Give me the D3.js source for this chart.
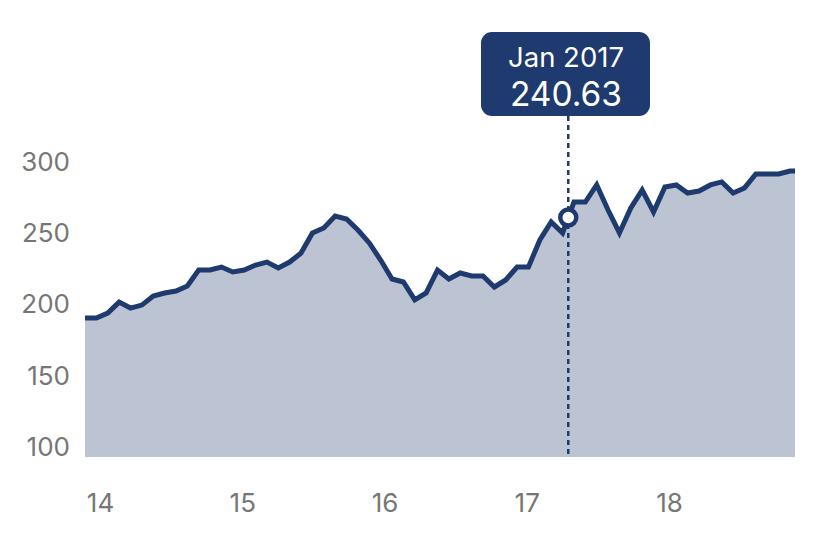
<!DOCTYPE html>
<html>
<head>
<meta charset="utf-8">
<script src="https://cdn.jsdelivr.net/npm/d3@7"></script>
<style>
  html, body { margin: 0; padding: 0; background: #fff; }
  svg { display: block; font-family: Inter, Roboto, "Noto Sans", sans-serif; }
</style>
</head>
<body>
<svg id="chart" width="822" height="534"></svg>
<script>
// ---- data ----
const values = [
  190.5, 190.5, 194.0, 201.7, 197.5, 199.6, 206.0, 208.1, 209.5, 213.0,
  224.2, 224.2, 226.3, 222.8, 224.2, 227.7, 229.8, 225.6, 229.8, 236.1,
  250.2, 253.7, 262.1, 260.0, 252.3, 243.2, 231.2, 217.9, 215.8, 203.2,
  208.1, 224.2, 217.9, 222.1, 220.0, 220.0, 212.3, 217.2, 226.3, 226.3,
  245.3, 257.9, 250.2, 271.9, 271.9, 283.9, 266.3, 250.2, 267.7, 280.3,
  264.9, 282.5, 283.9, 278.2, 279.6, 283.9, 286.0, 278.2, 281.8, 291.6,
  291.6, 291.6, 293.7, 293.7
];
const yTicks = [100, 150, 200, 250, 300];
const yearTicks = [14, 15, 16, 17, 18];
const highlightIndex = 42.5;
const highlightLabel = "Jan 2017";
const highlightValue = "240.63";

// ---- layout ----
const plotLeft = 85, plotRight = 795, plotTop = 162, plotBottom = 457;
const navy = "#1e3a6e";
const fillCol = "#bcc3d2";
const labelCol = "#767676";

const svg = d3.select("#chart");

const x = d3.scaleLinear().domain([0, 62]).range([plotLeft, 790]);
const xYears = d3.scaleLinear().domain([14, 18]).range([100, 669]);
const y = d3.scaleLinear().domain([93, 300]).range([plotBottom, plotTop]);

svg.append("defs").append("clipPath").attr("id", "clip")
  .append("rect")
  .attr("x", plotLeft).attr("y", 0)
  .attr("width", plotRight - plotLeft).attr("height", plotBottom + 2);

const g = svg.append("g").attr("clip-path", "url(#clip)");

const area = d3.area()
  .x((d, i) => x(i))
  .y0(y(93))
  .y1(d => y(d));

const line = d3.line()
  .x((d, i) => x(i))
  .y(d => y(d));

g.append("path").datum(values)
  .attr("d", area)
  .attr("fill", fillCol);

g.append("path").datum(values)
  .attr("d", line)
  .attr("fill", "none")
  .attr("stroke", navy)
  .attr("stroke-width", 5)
  .attr("stroke-linejoin", "miter");

// y axis labels
const yAxis = d3.axisLeft(y).tickValues(yTicks).tickSize(0).tickPadding(0);
const ya = svg.append("g").attr("transform", "translate(70,0)").call(yAxis);
ya.select(".domain").remove();
ya.selectAll("text")
  .attr("fill", labelCol)
  .style("font-size", "26px")
  .style("font-family", "Inter, Roboto, sans-serif");

// x axis labels
const xAxis = d3.axisBottom(xYears).tickValues(yearTicks).tickFormat(d => String(d)).tickSize(0).tickPadding(0);
const xa = svg.append("g").attr("transform", "translate(0,495)").call(xAxis);
xa.select(".domain").remove();
xa.selectAll("text")
  .attr("fill", labelCol)
  .attr("dy", "0.71em")
  .attr("y", -1)
  .style("font-size", "26px")
  .style("font-family", "Inter, Roboto, sans-serif");

// highlight
const i0 = Math.floor(highlightIndex), i1 = Math.ceil(highlightIndex);
const hv = values[i0] + (values[i1] - values[i0]) * (highlightIndex - i0);
const hx = x(highlightIndex), hy = y(hv);

svg.append("line")
  .attr("x1", hx).attr("x2", hx)
  .attr("y1", 116).attr("y2", plotBottom - 2)
  .attr("stroke", navy)
  .attr("stroke-width", 2.5)
  .attr("stroke-dasharray", "5,4");

svg.append("circle")
  .attr("cx", hx).attr("cy", hy).attr("r", 8)
  .attr("fill", "#fff")
  .attr("stroke", navy)
  .attr("stroke-width", 4.5);

const tip = svg.append("g");
tip.append("rect")
  .attr("x", 481).attr("y", 32).attr("width", 169).attr("height", 84)
  .attr("rx", 11).attr("fill", navy);
tip.append("text")
  .attr("x", 566).attr("y", 67)
  .attr("text-anchor", "middle")
  .attr("fill", "#fff")
  .style("font-size", "27.5px")
  .text(highlightLabel);
tip.append("text")
  .attr("x", 566).attr("y", 106)
  .attr("text-anchor", "middle")
  .attr("fill", "#fff")
  .style("font-size", "33.5px")
  .text(highlightValue);
</script>
</body>
</html>
